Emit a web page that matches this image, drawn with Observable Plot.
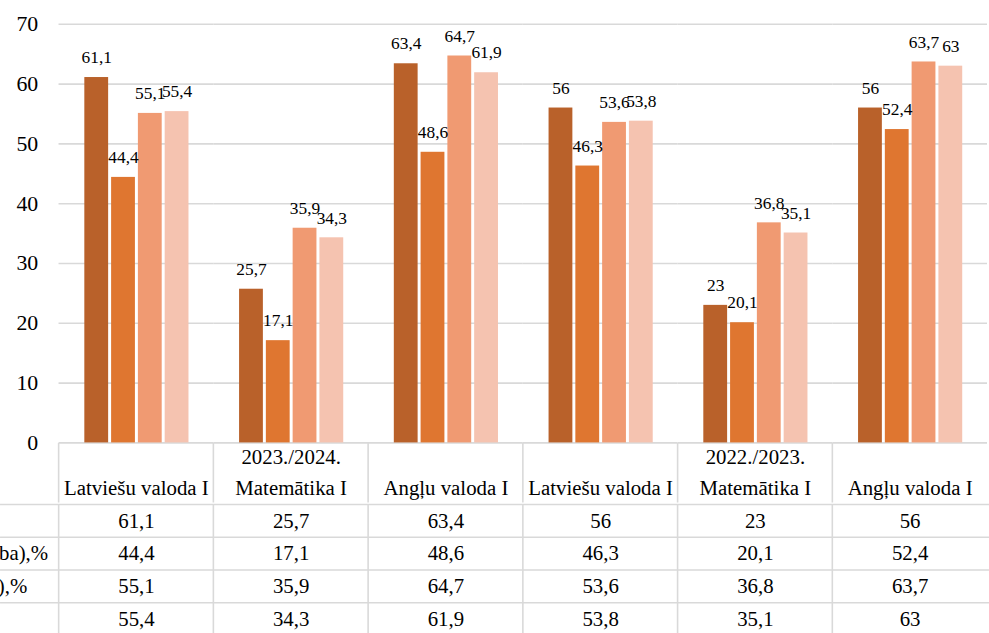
<!DOCTYPE html>
<html>
<head>
<meta charset="utf-8">
<script src="https://cdn.jsdelivr.net/npm/d3@7"></script>
<script src="https://cdn.jsdelivr.net/npm/@observablehq/plot@0.6"></script>
<style>
  html, body { margin: 0; padding: 0; overflow: hidden; background: #fff; }
  #chart svg { display: block; font-family: "Liberation Serif", "Times New Roman", serif !important; }
  #chart svg text { font-family: "Liberation Serif", "Times New Roman", serif !important; }
  #chart svg.bars { overflow: visible; position: relative; z-index: 2; }
</style>
</head>
<body>
<div id="chart"></div>
<script>
// ---- data ----
const years = ["2023./2024.", "2023./2024.", "2023./2024.", "2022./2023.", "2022./2023.", "2022./2023."];
const subjects = ["Latviešu valoda I", "Matemātika I", "Angļu valoda I", "Latviešu valoda I", "Matemātika I", "Angļu valoda I"];
const yearLabelShown = [false, true, false, false, true, false];
const seriesKeys = ["s1", "s2", "s3", "s4"];
const rowLabels = ["", "ba),%", "),%\u00a0\u00a0\u00a0\u00a0", ""];
const s1 = [61.1, 25.7, 63.4, 56, 23, 56];
const s2 = [44.4, 17.1, 48.6, 46.3, 20.1, 52.4];
const s3 = [55.1, 35.9, 64.7, 53.6, 36.8, 63.7];
const s4 = [55.4, 34.3, 61.9, 53.8, 35.1, 63];
const yTicks = [0, 10, 20, 30, 40, 50, 60, 70];
const colors = ["#B9612A", "#DF7630", "#F09A72", "#F5C3B0"];

// ---- derived table ----
const colKeys = subjects.map((s, i) => years[i] + " " + s);
const seriesValues = [s1, s2, s3, s4];
const data = [];
colKeys.forEach((c, i) => seriesKeys.forEach((k, j) => data.push({col: c, series: k, value: seriesValues[j][i]})));
const fmt = v => String(v).replace(".", ",");
const cols = colKeys.map((k, i) => ({key: k, subject: subjects[i], year: years[i], showYear: yearLabelShown[i]}));

const W = 997, ML = 56, MR = 0;
const step = (W - ML - MR) / colKeys.length;
const grid = "#D9D9D9";
const font = "Liberation Serif";

// ---- bars ----
const p1 = Plot.plot({
  className: "bars",
  width: W, height: 447,
  marginTop: 24, marginBottom: 1, marginLeft: ML, marginRight: MR,
  style: {fontFamily: font, color: "#000", background: "transparent", overflow: "visible"},
  fx: {domain: colKeys, padding: 0, axis: null},
  x: {domain: seriesKeys, paddingInner: 0.125, paddingOuter: 0.8625, axis: null},
  y: {domain: [0, 70]},
  color: {domain: seriesKeys, range: colors},
  marks: [
    Plot.ruleY(yTicks, {stroke: grid, strokeWidth: 1.6}),
    Plot.axisY({ticks: yTicks, tickSize: 0, tickPadding: 21, fontSize: 22, label: null, fill: "#000"}),
    Plot.barY(data, {fx: "col", x: "series", y: "value", fill: "series"}),
    Plot.text(data, {fx: "col", x: "series", y: "value", text: d => fmt(d.value), dy: -20, lineAnchor: "middle", fontSize: 17.5, fill: "#000"})
  ]
});
p1.classList.add("bars");

// ---- header row ----
const p2 = Plot.plot({
  width: W, height: 60,
  marginTop: 0, marginBottom: 0, marginLeft: ML, marginRight: MR,
  style: {fontFamily: font, color: "#000", background: "transparent"},
  x: {type: "band", domain: colKeys, padding: 0, axis: null},
  marks: [
    Plot.ruleX(colKeys, {x: d => d, dx: -step / 2, stroke: grid, strokeWidth: 1.6}),
    Plot.text(cols.filter(d => d.showYear), {x: "key", text: "year", frameAnchor: "top", lineAnchor: "middle", dy: 14, fontSize: 21, fill: "#000"}),
    Plot.text(cols, {x: "key", text: "subject", frameAnchor: "bottom", lineAnchor: "middle", dy: -15, fontSize: 21, fill: "#000"})
  ]
});

// ---- data rows ----
const p3 = Plot.plot({
  width: W, height: 133,
  marginTop: 1, marginBottom: 0, marginLeft: ML, marginRight: MR,
  style: {fontFamily: font, color: "#000", background: "#fff"},
  x: {type: "band", domain: colKeys, padding: 0, axis: null},
  y: {type: "band", domain: seriesKeys, padding: 0, axis: null},
  marks: [
    Plot.ruleY(seriesKeys, {y: d => d, dy: -66 / 4, insetLeft: -ML, stroke: grid, strokeWidth: 1.6}),
    Plot.ruleX(colKeys, {x: d => d, dx: -step / 2, stroke: grid, strokeWidth: 1.6}),
    Plot.text(data, {x: "col", y: "series", text: d => fmt(d.value), fontSize: 21, fill: "#000"}),
    Plot.text(seriesKeys, {y: d => d, text: (d, i) => rowLabels[i], frameAnchor: "left", textAnchor: "end", dx: -8, fontSize: 21, fill: "#000"})
  ]
});

const root = document.getElementById("chart");
root.append(p1, p2, p3);
</script>
</body>
</html>
